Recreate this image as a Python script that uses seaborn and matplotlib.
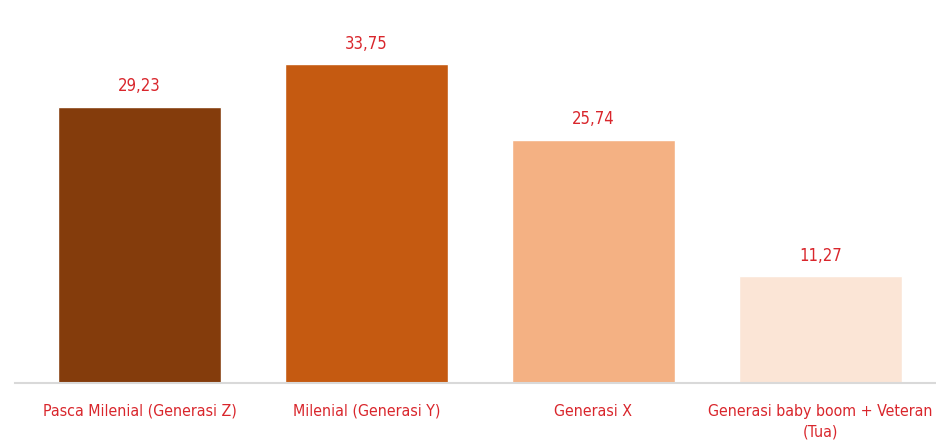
import matplotlib
matplotlib.use("Agg")
import matplotlib.pyplot as plt
import seaborn as sns
import pandas as pd

# Chart data
categories = ["Pasca Milenial (Generasi Z)", "Milenial (Generasi Y)",
              "Generasi X", "Generasi baby boom + Veteran\n(Tua)"]
values = [29.23, 33.75, 25.74, 11.27]
bar_colors = ["#843c0c", "#c55a11", "#f4b183", "#fbe5d6"]

RED = "#d9262c"

sns.set_theme(style="white")
plt.rcParams["font.family"] = ["DejaVu Sans"]
plt.rcParams["font.stretch"] = "condensed"

df = pd.DataFrame({"kategori": categories, "nilai": values})

fig = plt.figure(figsize=(9.36, 4.46), dpi=100)
ax = fig.add_axes([0.016, 0.1413, 0.984, 0.8587])

sns.barplot(data=df, x="kategori", y="nilai", hue="kategori", palette=bar_colors,
            width=0.72, legend=False, ax=ax, saturation=1)

for i, v in enumerate(values):
    ax.annotate(f"{v:.2f}".replace(".", ","), xy=(i, v), xytext=(0, 8),
                textcoords="offset points", ha="center", va="bottom",
                color=RED, fontsize=12)

ax.set_xlim(-0.55, 3.51)
ax.set_ylim(0, 40.5)
ax.set_xlabel("")
ax.set_ylabel("")
ax.set_yticks([])
ax.tick_params(axis="x", length=0, pad=15, labelsize=11.4, labelcolor=RED)
ax.set_xticks(range(len(categories)))
ax.set_xticklabels(categories, linespacing=1.45)

for side in ["top", "right", "left"]:
    ax.spines[side].set_visible(False)
ax.spines["bottom"].set_color("#d9d9d9")
ax.spines["bottom"].set_linewidth(1.5)

fig.savefig("out.png", dpi=100)
